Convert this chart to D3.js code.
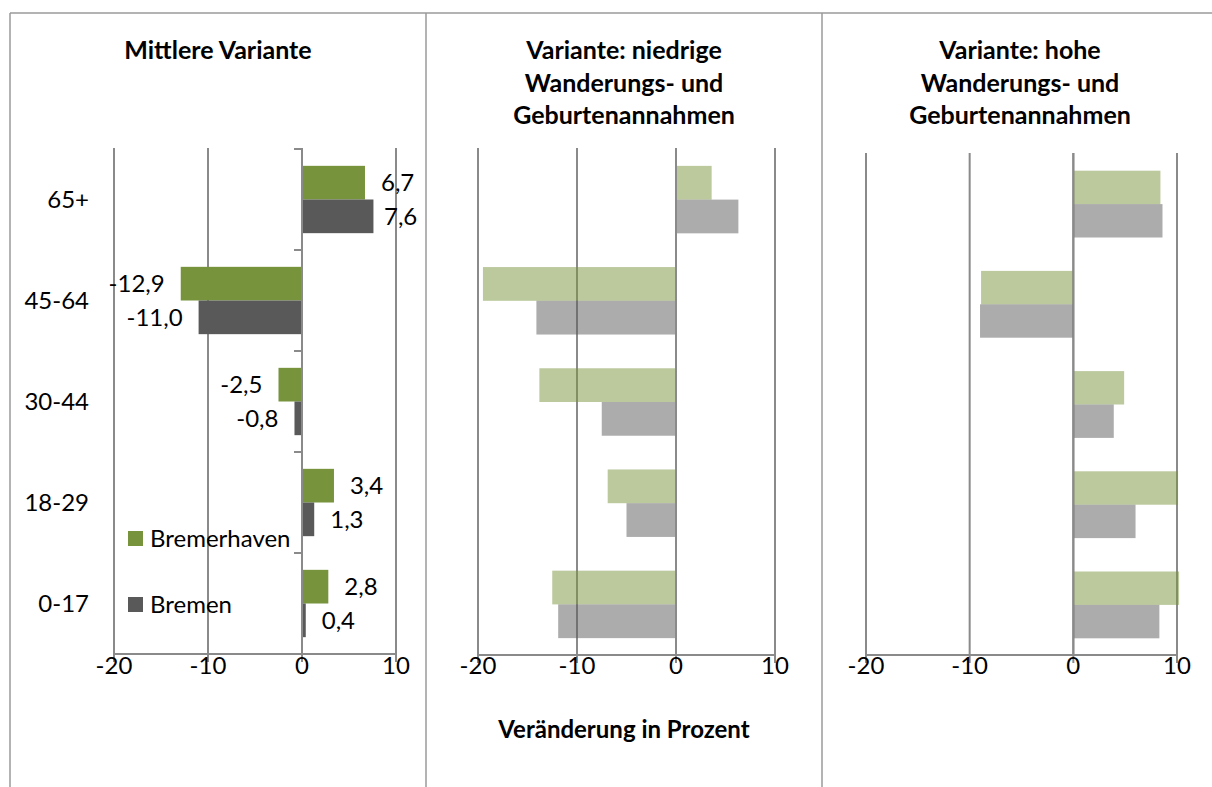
<!DOCTYPE html>
<html lang="de">
<head>
  <meta charset="UTF-8">
  <title>Bevölkerungsvarianten Bremen / Bremerhaven</title>
  <script src="https://d3js.org/d3.v7.min.js"></script>
  <style>
    body {
      margin: 0;
      background: #fff;
      font-family: Lato, "Open Sans", sans-serif;
    }
    .grid line {
      stroke: #8a8a8a;
      stroke-width: 2px;
    }
    .frame {
      stroke: #9a9a9a;
      stroke-width: 1.5px;
    }
  </style>
</head>
<body>
  <div id="chart"></div>

  <script>
    // age groups, top to bottom
    const ageGroups = ["65+", "45-64", "30-44", "18-29", "0-17"];
    const seriesNames = ["Bremerhaven", "Bremen"];

    // change in percent
    const midBremerhaven = [6.7, -12.9, -2.5, 3.4, 2.8];
    const midBremen = [7.6, -11.0, -0.8, 1.3, 0.4];
    const lowBremerhaven = [3.6, -19.5, -13.8, -6.9, -12.5];
    const lowBremen = [6.3, -14.1, -7.5, -5.0, -11.9];
    const highBremerhaven = [8.4, -8.9, 4.9, 10.1, 10.2];
    const highBremen = [8.6, -9.0, 3.9, 6.0, 8.3];

    const xTicks = [-20, -10, 0, 10];
    const titles = [
      ["Mittlere Variante"],
      ["Variante: niedrige", "Wanderungs- und", "Geburtenannahmen"],
      ["Variante: hohe", "Wanderungs- und", "Geburtenannahmen"]
    ];
    const axisTitle = "Veränderung in Prozent";

    const colors = { Bremerhaven: "#77933c", Bremen: "#595959" };
    // German decimal comma, plain hyphen as minus
    const fmt = v => v.toFixed(1).replace(".", ",");

    const width = 1212, height = 787;
    const fs = 24;
    const svg = d3.select("#chart").append("svg")
      .attr("width", width)
      .attr("height", height);

    // panel layout (pixel boxes of each plot area)
    const panels = [
      { x0: 114, x1: 396, top: 149, bottom: 654, cx: 218, values: [midBremerhaven, midBremen], opacity: 1 },
      { x0: 478, x1: 775, top: 149, bottom: 655, cx: 624, values: [lowBremerhaven, lowBremen], opacity: 0.5 },
      { x0: 866, x1: 1177, top: 154, bottom: 655, cx: 1020, values: [highBremerhaven, highBremen], opacity: 0.5 }
    ];

    // outer frame lines
    svg.append("line").attr("class", "frame")
      .attr("x1", 10).attr("x2", width).attr("y1", 13).attr("y2", 13);
    [10, 426, 822].forEach(px => {
      svg.append("line").attr("class", "frame")
        .attr("x1", px).attr("x2", px).attr("y1", 13).attr("y2", height);
    });

    panels.forEach((p, i) => {
      const g = svg.append("g");

      const x = d3.scaleLinear().domain([-20, 10]).range([p.x0, p.x1]);
      const y = d3.scaleBand().domain(ageGroups).range([p.top, p.bottom]);
      const bw = y.bandwidth();
      const ySub = d3.scaleBand().domain(seriesNames).range([bw / 6, bw * 5 / 6]);

      // title
      const t = g.append("text")
        .attr("text-anchor", "middle")
        .attr("font-weight", "bold")
        .attr("font-size", 25)
        .attr("fill", "#000");
      titles[i].forEach((line, k) => {
        t.append("tspan").attr("x", p.cx).attr("y", 59 + k * 32.5).text(line);
      });

      // vertical gridlines
      g.append("g").attr("class", "grid")
        .selectAll("line")
        .data(xTicks)
        .join("line")
        .attr("x1", d => x(d)).attr("x2", d => x(d))
        .attr("y1", p.top - 1).attr("y2", p.bottom);

      // bars
      const rows = [];
      ageGroups.forEach((a, j) => {
        seriesNames.forEach((s, k) => rows.push({ age: a, series: s, value: p.values[k][j] }));
      });

      g.append("g")
        .selectAll("rect")
        .data(rows)
        .join("rect")
        .attr("x", d => x(Math.min(0, d.value)))
        .attr("width", d => Math.abs(x(d.value) - x(0)))
        .attr("y", d => y(d.age) + ySub(d.series))
        .attr("height", ySub.bandwidth())
        .attr("fill", d => colors[d.series])
        .attr("fill-opacity", p.opacity);

      // zero line on top
      g.append("line")
        .attr("x1", x(0)).attr("x2", x(0))
        .attr("y1", p.top - 1).attr("y2", p.bottom)
        .attr("stroke", "#8a8a8a").attr("stroke-width", 2);

      // bottom axis
      const axis = g.append("g").attr("class", "grid");
      axis.append("line")
        .attr("x1", x(-20)).attr("x2", x(10))
        .attr("y1", p.bottom).attr("y2", p.bottom);
      axis.selectAll(".tk")
        .data(xTicks)
        .join("line")
        .attr("class", "tk")
        .attr("x1", d => x(d)).attr("x2", d => x(d))
        .attr("y1", p.bottom).attr("y2", p.bottom + 8);

      g.append("g")
        .selectAll("text")
        .data(xTicks)
        .join("text")
        .attr("x", d => x(d))
        .attr("y", 666)
        .attr("dy", "0.35em")
        .attr("text-anchor", "middle")
        .attr("font-size", fs)
        .attr("fill", "#000")
        .text(d => String(d));

      if (i === 0) {
        // category ticks on the zero axis
        g.append("g").attr("class", "grid")
          .selectAll("line")
          .data(ageGroups.map(a => y(a)).concat([p.bottom]))
          .join("line")
          .attr("x1", x(0) - 8).attr("x2", x(0))
          .attr("y1", d => d).attr("y2", d => d);

        // category labels
        g.append("g")
          .selectAll("text")
          .data(ageGroups)
          .join("text")
          .attr("x", 89)
          .attr("y", d => y(d) + bw / 2)
          .attr("dy", "0.35em")
          .attr("text-anchor", "end")
          .attr("font-size", fs)
          .attr("fill", "#000")
          .text(d => d);

        // value labels
        g.append("g")
          .selectAll("text")
          .data(rows)
          .join("text")
          .attr("x", d => d.value >= 0 ? Math.min(x(d.value) + 16, 384) : x(d.value) - 16)
          .attr("y", d => y(d.age) + ySub(d.series) + ySub.bandwidth() / 2)
          .attr("dy", "0.35em")
          .attr("text-anchor", d => d.value >= 0 ? "start" : "end")
          .attr("font-size", fs)
          .attr("fill", "#000")
          .text(d => fmt(d.value));

        // legend
        const leg = g.append("g")
          .selectAll("g")
          .data(seriesNames)
          .join("g")
          .attr("transform", (d, k) => `translate(128, ${531 + k * 66})`);
        leg.append("rect")
          .attr("width", 15).attr("height", 15)
          .attr("fill", d => colors[d]);
        leg.append("text")
          .attr("x", 22).attr("y", 7.5)
          .attr("dy", "0.35em")
          .attr("font-size", fs)
          .attr("fill", "#000")
          .text(d => d);
      }

      if (i === 1) {
        g.append("text")
          .attr("x", p.cx)
          .attr("y", 730)
          .attr("dy", "0.35em")
          .attr("text-anchor", "middle")
          .attr("font-weight", "bold")
          .attr("font-size", fs)
          .attr("fill", "#000")
          .text(axisTitle);
      }
    });
  </script>
</body>
</html>
